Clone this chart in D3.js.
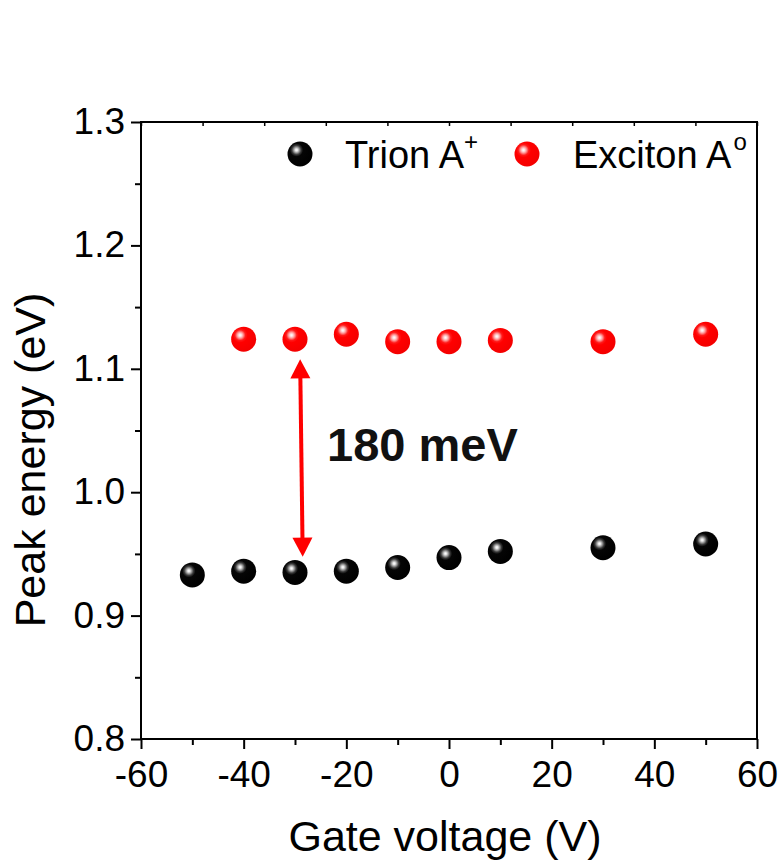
<!DOCTYPE html>
<html>
<head>
<meta charset="utf-8">
<script src="https://cdn.jsdelivr.net/npm/d3@7/dist/d3.min.js"></script>
<style>
  html, body { margin: 0; padding: 0; background: #fff; }
  svg { display: block; }
  text { font-family: "Liberation Sans", Arial, sans-serif; }
</style>
</head>
<body>
<svg id="chart" width="780" height="862"></svg>
<script>
// ---- data ----
const trionVoltage = [-50, -40, -30, -20, -10, 0, 10, 30, 50];
const trionEnergy  = [0.933, 0.936, 0.935, 0.936, 0.939, 0.947, 0.952, 0.955, 0.958];
const excitonVoltage = [-40, -30, -20, -10, 0, 10, 30, 50];
const excitonEnergy  = [1.124, 1.124, 1.128, 1.122, 1.122, 1.123, 1.122, 1.128];
const xTicks = [-60, -40, -20, 0, 20, 40, 60];
const xMinorTicks = [-50, -30, -10, 10, 30, 50];
const yTicks = [0.8, 0.9, 1.0, 1.1, 1.2, 1.3];
const yMinorTicks = [0.85, 0.95, 1.05, 1.15, 1.25];
const arrowFrom = [-29.0, 1.1077];   // [voltage, energy] of top tip
const arrowTo   = [-28.5, 0.9477];   // bottom tip
const gapLabel = "180 meV";

// ---- layout ----
const W = 780, H = 862;
const m = { left: 141, right: 757, top: 122, bottom: 739 };
const svg = d3.select("#chart");
const FONT = '"Liberation Sans", Arial, sans-serif';

const x = d3.scaleLinear().domain([-60, 60]).range([m.left, m.right]);
const y = d3.scaleLinear().domain([0.8, 1.3]).range([m.bottom, m.top]);

// gradients
const defs = svg.append("defs");
function sphere(id, stops) {
  const g = defs.append("radialGradient").attr("id", id)
    .attr("cx", "36%").attr("cy", "34%").attr("fx", "36%").attr("fy", "34%").attr("r", "66%");
  stops.forEach(s => g.append("stop").attr("offset", s[0]).attr("stop-color", s[1]));
}
sphere("gBlack", [["0%", "#ffffff"], ["7%", "#e8e8e8"], ["16%", "#a0a0a0"], ["28%", "#3a3a3a"], ["40%", "#050505"], ["100%", "#000000"]]);
sphere("gRed", [["0%", "#ffffff"], ["8%", "#ffe0e0"], ["18%", "#ff9a9a"], ["32%", "#ff1a1a"], ["45%", "#ff0000"], ["100%", "#f40000"]]);

// axes
const axisStyle = g => {
  g.selectAll(".domain").remove();
  g.selectAll("line").attr("stroke", "#000").attr("stroke-width", 2);
  g.selectAll("text").attr("font-family", FONT).attr("font-size", 37).attr("fill", "#000");
};

svg.append("g").attr("transform", `translate(0,${m.bottom})`)
  .call(d3.axisBottom(x).tickValues(xTicks).tickFormat(d => String(d)).tickSize(10).tickPadding(12))
  .call(axisStyle)
  .call(g => g.selectAll("text").attr("dy", "0.71em"));
svg.append("g").attr("transform", `translate(0,${m.bottom})`)
  .call(d3.axisBottom(x).tickValues(xMinorTicks).tickFormat("").tickSize(6))
  .call(axisStyle);

svg.append("g").attr("transform", `translate(${m.left},0)`)
  .call(d3.axisLeft(y).tickValues(yTicks).tickFormat(d => d.toFixed(1)).tickSize(10).tickPadding(6))
  .call(axisStyle)
  .call(g => g.selectAll("text").attr("dy", "0.31em"));
svg.append("g").attr("transform", `translate(${m.left},0)`)
  .call(d3.axisLeft(y).tickValues(yMinorTicks).tickFormat("").tickSize(6))
  .call(axisStyle);

// top axis small inward ticks (10 divisions)
const xTop = d3.scaleLinear().domain([0, 10]).range([m.left, m.right]);
svg.append("g").attr("transform", `translate(0,${m.top})`)
  .call(d3.axisBottom(xTop).ticks(10).tickFormat("").tickSize(4))
  .call(g => { g.selectAll(".domain").remove(); g.selectAll("line").attr("stroke", "#000").attr("stroke-width", 1.5); });

// frame
svg.append("rect").attr("x", m.left).attr("y", m.top)
  .attr("width", m.right - m.left).attr("height", m.bottom - m.top)
  .attr("fill", "none").attr("stroke", "#000").attr("stroke-width", 2);

// axis titles
svg.append("text").attr("x", 445).attr("y", 851).attr("text-anchor", "middle")
  .attr("font-size", 43).attr("fill", "#000").text("Gate voltage (V)");
svg.append("text").attr("transform", "translate(45,460) rotate(-90)").attr("text-anchor", "middle")
  .attr("font-size", 43).attr("fill", "#000").text("Peak energy (eV)");

// arrow
const ax1 = x(arrowFrom[0]), ay1 = y(arrowFrom[1]);
const ax2 = x(arrowTo[0]),   ay2 = y(arrowTo[1]);
const len = Math.hypot(ax2 - ax1, ay2 - ay1);
const ux = (ax2 - ax1) / len, uy = (ay2 - ay1) / len;
const headL = 19, headW = 10;
svg.append("line")
  .attr("x1", ax1 + ux * (headL - 2)).attr("y1", ay1 + uy * (headL - 2))
  .attr("x2", ax2 - ux * (headL - 2)).attr("y2", ay2 - uy * (headL - 2))
  .attr("stroke", "#ff0000").attr("stroke-width", 4);
function head(tx, ty, dx, dy) {
  const bx = tx + dx * headL, by = ty + dy * headL;
  const px = -dy, py = dx;
  return `M${tx},${ty}L${bx + px * headW},${by + py * headW}L${bx - px * headW},${by - py * headW}Z`;
}
svg.append("path").attr("d", head(ax1, ay1, ux, uy)).attr("fill", "#ff0000");
svg.append("path").attr("d", head(ax2, ay2, -ux, -uy)).attr("fill", "#ff0000");

svg.append("text").attr("x", 327).attr("y", 461).attr("font-size", 47).attr("font-weight", "bold")
  .attr("fill", "#111").text(gapLabel);

// markers
const R = 12.5;
svg.append("g").selectAll("circle").data(trionVoltage).join("circle")
  .attr("cx", d => x(d)).attr("cy", (d, i) => y(trionEnergy[i])).attr("r", R)
  .attr("fill", "url(#gBlack)");
svg.append("g").selectAll("circle").data(excitonVoltage).join("circle")
  .attr("cx", d => x(d)).attr("cy", (d, i) => y(excitonEnergy[i])).attr("r", R)
  .attr("fill", "url(#gRed)");

// legend
const leg = svg.append("g");
leg.append("circle").attr("cx", 300).attr("cy", 154).attr("r", R).attr("fill", "url(#gBlack)");
const t1 = leg.append("text").attr("x", 345).attr("y", 168).attr("font-size", 38).attr("fill", "#000");
t1.append("tspan").text("Trion A");
t1.append("tspan").attr("font-size", 24).attr("dy", -18).text("+");
leg.append("circle").attr("cx", 527).attr("cy", 154).attr("r", R).attr("fill", "url(#gRed)");
const t2 = leg.append("text").attr("x", 573).attr("y", 168).attr("font-size", 38).attr("fill", "#000");
t2.append("tspan").text("Exciton A");
t2.append("tspan").attr("font-size", 24).attr("dy", -18).attr("dx", 2).text("o");
</script>
</body>
</html>
